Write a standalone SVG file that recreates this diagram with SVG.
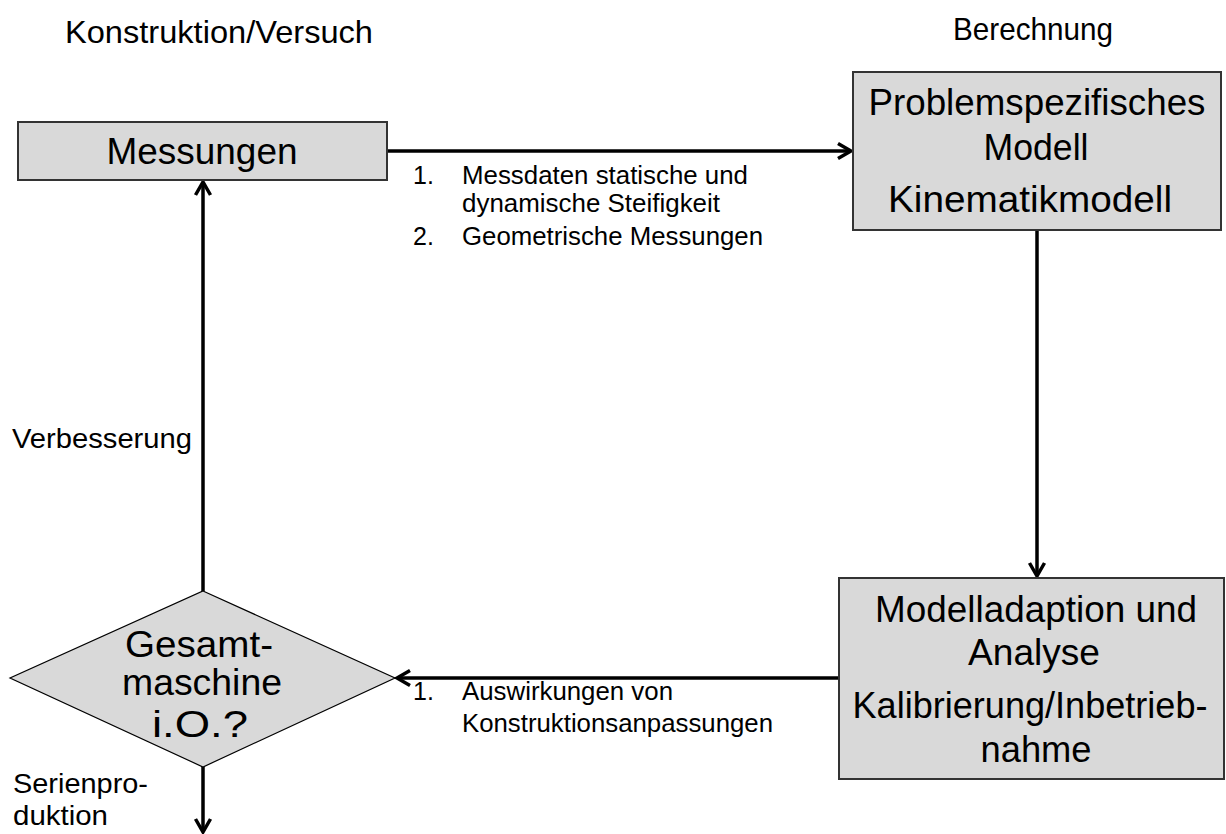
<svg xmlns="http://www.w3.org/2000/svg" width="1226" height="834" viewBox="0 0 1226 834">
  <style>
    text { font-family: "Liberation Sans", Arial, sans-serif; fill: #000; }
    .title { font-size: 32px; }
    .node { font-size: 36px; text-anchor: middle; }
    .lbl { font-size: 25px; }
    .side { font-size: 28px; }
    .box { fill: #d9d9d9; stroke: #333; stroke-width: 2; }
    .dia { fill: #d9d9d9; stroke: #000; stroke-width: 1.2; }
    .conn { fill: none; stroke: #000; stroke-width: 3.5; }
  </style>
  <defs>
    <marker id="open-arrow" markerUnits="userSpaceOnUse" viewBox="0 0 20 20" markerWidth="20" markerHeight="20" refX="17" refY="10" orient="auto">
      <path d="M4,2.5 L17,10 L4,17.5" fill="none" stroke="#000" stroke-width="3.5" stroke-linejoin="miter"/>
    </marker>
  </defs>

  <rect width="1226" height="834" fill="#fff"/>

  <!-- column headings -->
  <text class="title" x="65" y="43" textLength="308" lengthAdjust="spacingAndGlyphs">Konstruktion/Versuch</text>
  <text class="title" x="953" y="40" textLength="160" lengthAdjust="spacingAndGlyphs">Berechnung</text>

  <!-- connectors -->
  <g id="connectors">
    <line class="conn" x1="387" y1="151" x2="851" y2="151" marker-end="url(#open-arrow)"/>
    <line class="conn" x1="1037" y1="230" x2="1037" y2="576" marker-end="url(#open-arrow)"/>
    <line class="conn" x1="839" y1="678" x2="397" y2="678" marker-end="url(#open-arrow)"/>
    <line class="conn" x1="203" y1="591" x2="203" y2="182" marker-end="url(#open-arrow)"/>
    <line class="conn" x1="203" y1="767" x2="203" y2="832" marker-end="url(#open-arrow)"/>

    <g id="label-measure-data">
      <text class="lbl" x="413" y="184">1.</text>
      <text class="lbl" x="462" y="184" textLength="286" lengthAdjust="spacingAndGlyphs">Messdaten statische und</text>
      <text class="lbl" x="462" y="212" textLength="258" lengthAdjust="spacingAndGlyphs">dynamische Steifigkeit</text>
      <text class="lbl" x="413" y="245">2.</text>
      <text class="lbl" x="462" y="245" textLength="301" lengthAdjust="spacingAndGlyphs">Geometrische Messungen</text>
    </g>
    <g id="label-effects">
      <text class="lbl" x="413" y="700">1.</text>
      <text class="lbl" x="462" y="700" textLength="211" lengthAdjust="spacingAndGlyphs">Auswirkungen von</text>
      <text class="lbl" x="462" y="732" textLength="311" lengthAdjust="spacingAndGlyphs">Konstruktionsanpassungen</text>
    </g>
    <text class="side" x="12" y="448" textLength="180" lengthAdjust="spacingAndGlyphs">Verbesserung</text>
    <text class="side" x="13" y="793" textLength="135" lengthAdjust="spacingAndGlyphs">Serienpro-</text>
    <text class="side" x="13" y="825" textLength="95" lengthAdjust="spacingAndGlyphs">duktion</text>
  </g>

  <!-- nodes -->
  <g id="messungen">
    <rect class="box" x="18" y="122" width="369" height="58"/>
    <text class="node" x="202" y="164" textLength="191" lengthAdjust="spacingAndGlyphs">Messungen</text>
  </g>

  <g id="modell">
    <rect class="box" x="853" y="72" width="368" height="158"/>
    <text class="node" x="1037" y="115" textLength="337" lengthAdjust="spacingAndGlyphs">Problemspezifisches</text>
    <text class="node" x="1036" y="160" textLength="105" lengthAdjust="spacingAndGlyphs">Modell</text>
    <text class="node" x="1030" y="212" textLength="284" lengthAdjust="spacingAndGlyphs">Kinematikmodell</text>
  </g>

  <g id="analyse">
    <rect class="box" x="839" y="578" width="385" height="201"/>
    <text class="node" x="1036" y="622" textLength="322" lengthAdjust="spacingAndGlyphs">Modelladaption und</text>
    <text class="node" x="1034" y="665" textLength="132" lengthAdjust="spacingAndGlyphs">Analyse</text>
    <text class="node" x="1030" y="718" textLength="355" lengthAdjust="spacingAndGlyphs">Kalibrierung/Inbetrieb-</text>
    <text class="node" x="1036" y="762" textLength="111" lengthAdjust="spacingAndGlyphs">nahme</text>
  </g>

  <g id="gesamtmaschine">
    <polygon class="dia" points="203,591 395,678 203,767 10,678"/>
    <text class="node" x="199" y="657" textLength="148" lengthAdjust="spacingAndGlyphs">Gesamt-</text>
    <text class="node" x="202" y="695" textLength="160" lengthAdjust="spacingAndGlyphs">maschine</text>
    <text class="node" x="200" y="737" textLength="96" lengthAdjust="spacingAndGlyphs">i.O.?</text>
  </g>
</svg>
